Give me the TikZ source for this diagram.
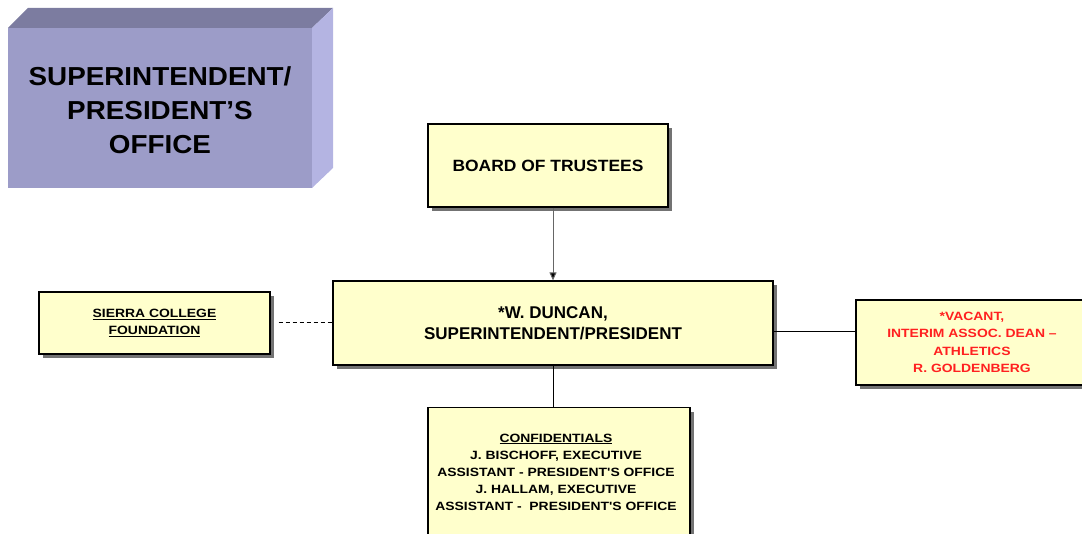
\documentclass[tikz,border=0pt]{standalone}
\usepackage{fontspec}
\setmainfont{Liberation Sans}
\newfontfamily\widesans[FakeStretch=1.16]{Liberation Sans}
\newfontfamily\midsans[FakeStretch=1.07]{Liberation Sans}
\usetikzlibrary{arrows.meta,calc}
\definecolor{boxfill}{HTML}{FFFFCC}
\definecolor{frontface}{HTML}{9C9CC8}
\definecolor{topface}{HTML}{7C7CA0}
\definecolor{sideface}{HTML}{B4B4E2}
\definecolor{vacred}{HTML}{FF2020}
\tikzset{
  orgbox/.style={draw=black, line width=1.2pt, fill=boxfill, inner sep=0pt,
    align=center,
    preaction={fill=black!55, transform canvas={shift={(4,-4)}}}},
  small/.style={font=\widesans\bfseries\fontsize{12}{17}\selectfont},
  big/.style={font=\midsans\bfseries\fontsize{16.3}{21}\selectfont},
  link/.style={line width=1pt},
}
\begin{document}
\begin{tikzpicture}[x=1pt,y=1pt]
\useasboundingbox (0,0) rectangle (1082,533);
\clip (0,0) rectangle (1082,533);
% raised title block
\fill[topface] (8,505) -- (28,525) -- (333,525) -- (312,505) -- cycle;
\fill[sideface] (312,505) -- (333,525) -- (333,365) -- (312,345) -- cycle;
\fill[frontface] (8,345) rectangle (312,505);
\node[align=center, font=\midsans\bfseries\fontsize{26}{34}\selectfont] (title) at (160,423)
  {SUPERINTENDENT/\\PRESIDENT’S\\OFFICE};
% boxes
\node[orgbox, big, minimum width=240, minimum height=83] (board) at (548,367.5)
  {BOARD OF TRUSTEES};
\node[orgbox, font=\bfseries\fontsize{17}{21}\selectfont, minimum width=440,
  minimum height=84] (duncan) at (553,210)
  {*W. DUNCAN,\\SUPERINTENDENT/PRESIDENT};
\node[orgbox, small, minimum width=231, minimum height=62] (sierra) at (154.5,210)
  {\underline{SIERRA COLLEGE}\\\underline{FOUNDATION}};
\node[orgbox, text=vacred, minimum width=232, minimum height=85,
  font=\widesans\bfseries\fontsize{12}{17.3}\selectfont] (vacant) at (972,190.5)
  {*VACANT,\\INTERIM ASSOC. DEAN –\\ATHLETICS\\R. GOLDENBERG};
\node[orgbox, minimum width=262, minimum height=140, anchor=north] (conf) at (559,126) {};
\node[small, align=center, anchor=north, inner sep=0pt] (conftext) at (556,99.5)
  {\underline{CONFIDENTIALS}\\J. BISCHOFF, EXECUTIVE\\ASSISTANT - PRESIDENT'S OFFICE\\J. HALLAM, EXECUTIVE\\ASSISTANT -\ \ PRESIDENT'S OFFICE};
% connectors
\draw[link, draw=black!60, -{Triangle[length=8pt,width=7pt,fill=black]}]
  (board.south -| duncan.north) -- (duncan.north);
\draw[link, dashed, dash pattern=on 4pt off 3pt] ($(sierra.east)+(8,0)$) -- (duncan.west);
\draw[link] (duncan.east |- 0,201) -- (vacant.west |- 0,201);
\draw[link] (duncan.south) -- (duncan.south |- conf.north);
\end{tikzpicture}
\end{document}
